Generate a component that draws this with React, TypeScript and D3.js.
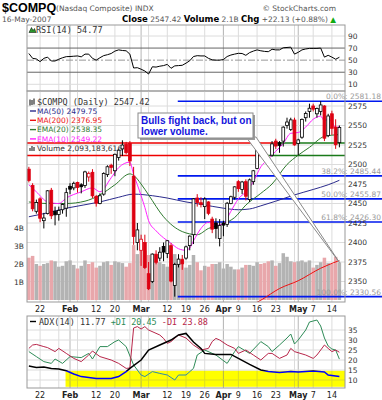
import React from "react";
import * as d3 from "d3";

// ---------- DATA ----------
const prevClose = 2497.78;
const opens = [
  2494, 2473, 2440, 2456, 2428, 2437, 2467, 2440, 2436, 2442,
  2444, 2472, 2470, 2477, 2474, 2473, 2484, 2490, 2459, 2450,
  2462, 2487, 2499, 2492, 2509, 2520, 2526, 2527, 2485, 2400,
  2390, 2400, 2360, 2350, 2385, 2380, 2395, 2386, 2396, 2345,
  2372, 2378, 2380, 2396, 2410, 2457, 2451, 2446, 2452, 2430,
  2425, 2405, 2425, 2423, 2450, 2458, 2478, 2468, 2478, 2455,
  2478, 2495, 2520, 2515, 2500, 2512, 2530, 2528, 2530, 2550,
  2545, 2557, 2527, 2535, 2560, 2568, 2575, 2565, 2568, 2575,
  2537, 2565, 2548, 2528,
];
const highs = [
  2497, 2476, 2455, 2458, 2438, 2467, 2470, 2446, 2446, 2450,
  2470, 2476, 2478, 2478, 2476, 2492, 2491, 2494, 2461, 2463,
  2490, 2499, 2501, 2514, 2520, 2531, 2529, 2530, 2497, 2425,
  2410, 2410, 2375, 2386, 2390, 2394, 2400, 2403, 2399, 2374,
  2385, 2384, 2396, 2409, 2457, 2462, 2458, 2458, 2453, 2433,
  2431, 2430, 2428, 2452, 2460, 2472, 2480, 2479, 2481, 2482,
  2493, 2519, 2522, 2518, 2512, 2530, 2533, 2530, 2549, 2560,
  2560, 2560, 2533, 2559, 2568, 2578, 2578, 2573, 2581.18, 2576,
  2565, 2569, 2558, 2550,
];
const lows = [
  2477, 2440, 2437, 2426, 2418, 2436, 2430, 2422, 2428, 2437,
  2433, 2462, 2467, 2464, 2463, 2470, 2478, 2457, 2446, 2449,
  2460, 2484, 2488, 2485, 2505, 2511, 2513, 2498, 2397, 2390,
  2370, 2366, 2339, 2348, 2372, 2376, 2376, 2380, 2349, 2330.56,
  2368, 2365, 2378, 2390, 2398, 2446, 2445, 2430, 2435, 2412,
  2405, 2395, 2408, 2420, 2449, 2455, 2465, 2462, 2454, 2452,
  2474, 2494, 2510, 2505, 2497, 2510, 2520, 2515, 2523, 2546,
  2543, 2524, 2512, 2533, 2555, 2560, 2568, 2560, 2563, 2530,
  2535, 2538, 2520, 2522,
];
const closes = [
  2479.42, 2443.21, 2451.31, 2431.07, 2431.41, 2466.28, 2434.24, 2435.49, 2441.09, 2448.64,
  2463.93, 2468.38, 2475.88, 2470.6, 2471.49, 2490.5, 2488.67, 2459.82, 2450.38, 2459.88,
  2488.38, 2497.1, 2496.31, 2513.04, 2518.42, 2524.94, 2515.1, 2504.52, 2407.86, 2416.15,
  2404.21, 2368.0, 2340.68, 2385.14, 2374.64, 2387.55, 2387.73, 2402.29, 2350.57, 2371.74,
  2378.7, 2372.66, 2394.41, 2408.21, 2455.92, 2451.23, 2448.93, 2455.63, 2437.43, 2417.1,
  2417.88, 2421.64, 2422.26, 2450.33, 2458.68, 2471.34, 2469.05, 2477.6, 2459.31, 2480.32,
  2491.94, 2518.33, 2516.95, 2510.5, 2505.35, 2526.39, 2523.67, 2524.54, 2547.89, 2554.46,
  2557.21, 2525.09, 2531.53, 2557.84, 2565.46, 2572.15, 2570.95, 2571.75, 2576.34, 2533.74,
  2562.22, 2546.44, 2525.29, 2547.42,
];
// volume in billions
const volumes = [
  2.35, 2.45, 2.0, 1.9, 2.0, 2.05, 2.2, 2.15, 1.85, 1.9,
  2.15, 2.2, 1.95, 1.75, 1.9, 2.2, 2.0, 2.1, 1.8, 1.9,
  2.1, 2.15, 1.95, 2.15, 2.1, 2.05, 1.85, 2.05, 3.05, 2.55,
  3.3, 2.75, 2.5, 2.3, 2.15, 2.1, 2.0, 1.85, 2.45, 2.55,
  2.05, 2.3, 1.8, 1.95, 2.5, 2.1, 1.65, 1.9, 1.85, 2.0,
  2.0, 2.1, 1.75, 2.0, 1.85, 1.7, 1.7, 1.8, 1.95, 1.95,
  1.9, 2.1, 2.0, 2.05, 2.15, 2.2, 1.9, 2.05, 2.6, 2.4,
  2.15, 2.1, 2.15, 2.2, 2.1, 2.2, 1.8, 1.95, 2.1, 2.35,
  2.05, 2.0, 2.4, 2.09,
];
const rsi = [
  61, 53, 52, 47.5, 53, 55, 48.6, 48.6, 51.5, 54,
  55.8, 56, 56.5, 57, 55.5, 60, 60, 53, 50, 54,
  57.5, 59, 61, 65, 67, 66, 65.5, 60, 37, 37.5,
  35, 32, 27, 39, 38.5, 40, 41, 43, 36.5, 40.5,
  41, 41.5, 45, 49, 56, 57.4, 57, 57, 53, 50.5,
  50, 50, 51, 56, 58.5, 60, 61.3, 61, 58, 62.5,
  65, 67, 65.5, 64.5, 64, 68, 67, 67, 70.5, 71,
  71.5, 60, 63, 67, 68.5, 69.5, 69.5, 69.5, 70, 55,
  58, 55, 51.5, 54.77,
];
const ma50: [number, number][] = [
  [0, 2433], [4, 2437], [10, 2444], [19, 2452], [24, 2458], [28, 2462], [33, 2460], [37, 2457],
  [42, 2452], [46, 2449], [52, 2444], [56, 2442], [59, 2443], [62, 2447], [66, 2453], [71, 2461],
  [76, 2468], [80, 2474], [83, 2479.75],
];
const ma200: [number, number][] = [
  [58, 2316], [62, 2326], [67, 2341], [72, 2351], [78, 2367], [83, 2376.95],
];
const ema20: [number, number][] = [
  [0, 2452], [5, 2450], [10, 2450], [15, 2453], [19, 2461], [23, 2474], [27, 2488], [28, 2486],
  [30, 2475], [32, 2461], [36, 2433], [41, 2414], [45, 2410], [48, 2418], [52, 2424], [55, 2432],
  [58, 2448], [62, 2463], [65, 2475], [69, 2500], [72, 2512], [75, 2522], [79, 2536], [83, 2538.35],
];
const ema10: [number, number][] = [
  [0, 2474], [2, 2465], [5, 2452], [8, 2450], [10, 2457], [14, 2465], [17, 2470], [19, 2465],
  [22, 2483], [24, 2496], [27, 2503], [28, 2487], [29, 2474], [30, 2460], [31, 2445], [32, 2428],
  [34, 2415], [36, 2406], [38, 2399], [40, 2392], [42, 2390], [43, 2393], [44, 2402], [46, 2418],
  [48, 2426], [50, 2422], [52, 2424], [54, 2440], [56, 2456], [58, 2465], [60, 2478], [62, 2497],
  [64, 2507], [66, 2517], [68, 2527], [70, 2540], [72, 2541], [74, 2548], [76, 2558], [78, 2562],
  [79, 2556], [80, 2558], [81, 2555], [82, 2547], [83, 2549.22],
];
const adx: [number, number][] = [
  [0, 17], [2, 16.3], [4, 16.5], [6, 15.8], [8, 15.5], [10, 14.6], [12, 13], [14, 11.7], [18, 10.8],
  [22, 10.8], [24, 11.7], [26, 14.2], [27, 15.8], [30, 20], [32, 25], [35, 27.5], [38, 30],
  [40, 32.5], [42, 33.3], [44, 29], [46, 25.8], [47, 23.3], [50, 22.8], [54, 22.8], [56, 20.8],
  [59, 17.8], [62, 15], [64, 14.2], [67, 13.8], [70, 14.3], [72, 14], [76, 14.5], [79, 14],
  [80, 12.5], [83, 11.77],
];
const plusDI: [number, number][] = [
  [0, 24.2], [2, 21.7], [4, 19.2], [6, 18.3], [7, 20.5], [9, 18.3], [11, 21.7], [14, 21.2],
  [16, 23.3], [17, 20.5], [19, 26.7], [21, 26.7], [23, 29.2], [24, 30], [26, 26.7], [28, 17.5],
  [30, 12.5], [31, 11.7], [33, 14.2], [35, 13.3], [37, 12.5], [39, 10], [40, 12.5], [42, 12.5],
  [44, 15.8], [45, 22.5], [47, 25], [50, 22.5], [53, 18.3], [55, 24.2], [56, 26.7], [59, 23.3],
  [62, 29.2], [64, 26.7], [65, 24.2], [67, 27.5], [69, 31], [70, 33], [71, 28], [72, 30],
  [74, 35], [75, 39], [77, 40], [78, 37], [79, 31], [80, 27], [81, 25.5], [82, 25], [83, 20.45],
];
const minusDI: [number, number][] = [
  [0, 25.8], [1, 27.5], [2, 27.8], [4, 26.7], [5, 26.2], [7, 24.2], [8, 25.8], [10, 23.3],
  [12, 20.8], [14, 19.2], [16, 22.5], [17, 24.5], [19, 21.7], [22, 20], [24, 18.3], [26, 15.8],
  [27, 16], [28, 36], [29, 36.7], [30, 35.5], [31, 36.7], [32, 35], [35, 32.5], [36, 30.8],
  [37, 28.3], [38, 29.2], [40, 32.5], [42, 31], [44, 27.5], [46, 25], [48, 25.8], [49, 29.2],
  [50, 30.8], [51, 30], [53, 27.5], [55, 25.8], [56, 23.3], [58, 25], [60, 22.5], [62, 20],
  [64, 23.3], [65, 23.3], [67, 20.8], [69, 22.5], [70, 25.8], [71, 24.2], [74, 22.5], [76, 20.8],
  [77, 22.5], [79, 27.5], [80, 25.8], [81, 24.2], [82, 25], [83, 23.88],
];
const fibLevels = [
  { label: "0.0%", value: 2581.18 },
  { label: "38.2%", value: 2485.44 },
  { label: "50.0%", value: 2455.87 },
  { label: "61.8%", value: 2426.3 },
  { label: "100.0%", value: 2330.56 },
];
const fibStartDay = 39.8;
const srLines = [
  { level: 2527.6, from: -0.5, to: 65.6, color: "#ee0000" },
  { level: 2527.6, from: 65.6, to: 84.5, color: "#1a7a1a" },
  { level: 2511.6, from: -0.5, to: 63.6, color: "#ee0000" },
  { level: 2511.6, from: 63.6, to: 84.5, color: "#1a7a1a" },
];
const weekTicks = [3, 8, 13, 18, 23, 27, 32, 37, 42, 47, 52, 56, 61, 66, 71, 76, 81];
const monthTicks = [11, 30, 52, 72];
const dateLabels = [
  { day: 3, text: "22", bold: false }, { day: 11, text: "Feb", bold: true },
  { day: 18, text: "12", bold: false }, { day: 23, text: "20", bold: false },
  { day: 30, text: "Mar", bold: true }, { day: 37, text: "12", bold: false },
  { day: 42, text: "19", bold: false }, { day: 47, text: "26", bold: false },
  { day: 52, text: "Apr", bold: true }, { day: 56, text: "9", bold: false },
  { day: 61, text: "16", bold: false }, { day: 66, text: "23", bold: false },
  { day: 72, text: "May", bold: true }, { day: 76, text: "7", bold: false },
  { day: 81, text: "14", bold: false },
];
const priceTicks = [2350, 2375, 2400, 2425, 2450, 2475, 2500, 2525, 2550, 2575];
const rsiTicks = [10, 30, 50, 70, 90];
const adxTicks = [10, 15, 20, 25, 30, 35];
const volTicks = [1, 2, 3, 4];
const highlight = { from: 9.8, to: 84.5, top: 14.6, bottom: 6.6 };
const note = ["Bulls fight back, but on", "lower volume."];

// ---------- LAYOUT ----------
const L = 27, R = 345;
const RSI_T = 25, RSI_B = 91;
const M_T = 91, M_B = 302;
const A_T = 316, A_B = 388;
const FONT = "DejaVu Sans, Verdana, sans-serif";
const MONO = "DejaVu Sans Mono, monospace";

export default function App() {
  const x = d3.scaleLinear().domain([-0.5, 84.5]).range([L, R]);
  const yP = d3.scaleLinear().domain([2350, 2575]).range([281.5, 106]);
  const yV = d3.scaleLinear().domain([0, 4]).range([300, 228]);
  const yR = d3.scaleLinear().domain([10, 90]).range([84.3, 36]);
  const yA = d3.scaleLinear().domain([10, 30]).range([380, 340]);

  const lineP = d3.line<[number, number]>().x((d) => x(d[0])).y((d) => yP(d[1])).curve(d3.curveMonotoneX);
  const lineA = d3.line<[number, number]>().x((d) => x(d[0])).y((d) => yA(d[1])).curve(d3.curveLinear);
  const lineR = d3.line<number>().x((_, i) => x(i)).y((d) => yR(d));

  const red = "#dd0011";
  const lastVolTip: [number, number] = [x(closes.length - 1), yV(volumes[volumes.length - 1])];

  const vGrid = (top: number, bottom: number) => (
    <g>
      {weekTicks.map((d) => (
        <line key={"w" + d} x1={x(d)} x2={x(d)} y1={top} y2={bottom} stroke="#dcdcdc" strokeWidth={1} />
      ))}
      {monthTicks.map((d) => (
        <line key={"m" + d} x1={x(d)} x2={x(d)} y1={top} y2={bottom} stroke="#b8b8b8" strokeWidth={1} />
      ))}
    </g>
  );

  const dateAxis = (yb: number) => (
    <g fontFamily={FONT} fontSize={8} fill="#222">
      {dateLabels.map((l) => (
        <text key={l.day + l.text} x={x(l.day)} y={yb} textAnchor="middle" fontWeight={l.bold ? "bold" : "normal"}>
          {l.text}
        </text>
      ))}
    </g>
  );

  return (
    <svg width={382} height={400} style={{ position: "absolute", left: 0, top: 0 }}>
      <defs>
        <clipPath id="cMain"><rect x={L} y={M_T} width={R - L} height={M_B - M_T} /></clipPath>
        <clipPath id="cRsi"><rect x={L} y={RSI_T} width={R - L} height={RSI_B - RSI_T} /></clipPath>
        <clipPath id="cAdx"><rect x={L} y={A_T} width={R - L} height={A_B - A_T} /></clipPath>
      </defs>
      <rect x={0} y={0} width={382} height={400} fill="#fff" />

      {/* Header */}
      <text x={2} y={11.5} fontFamily="Liberation Sans, Arial, sans-serif" fontSize={12.5} fontWeight="bold" fill="#000">$COMPQ</text>
      <text x={56} y={11} fontFamily={FONT} fontSize={7.5} fill="#555">(Nasdaq Composite) INDX</text>
      <text x={336} y={11} textAnchor="end" fontFamily={FONT} fontSize={7.5} fill="#555">© StockCharts.com</text>
      <text x={2} y={21.5} fontFamily={FONT} fontSize={7.5} fill="#555">16-May-2007</text>
      <text x={122} y={21.5} fontFamily={FONT} fontSize={7.5} fill="#555">
        <tspan fontWeight="bold" fill="#000" fontSize={8.5}>Close</tspan>
        <tspan> 2547.42 </tspan>
        <tspan fontWeight="bold" fill="#000" fontSize={8.5}>Volume</tspan>
        <tspan> 2.1B </tspan>
        <tspan fontWeight="bold" fill="#000" fontSize={8.5}>Chg</tspan>
        <tspan> +22.13 (+0.88%) </tspan>
        <tspan fill="#11aa11">▲</tspan>
      </text>

      {/* RSI panel */}
      <g clipPath="url(#cRsi)">
        {vGrid(RSI_T, RSI_B)}
        {rsiTicks.map((t) => (
          <line key={t} x1={L} x2={R} y1={yR(t)} y2={yR(t)}
            stroke={t === 30 || t === 70 ? "#666" : t === 50 ? "#999" : "#dcdcdc"}
            strokeDasharray={t === 50 ? "7,2,2,2" : undefined} strokeWidth={1} />
        ))}
        <path d={lineR(rsi) || ""} fill="none" stroke="#000" strokeWidth={1} />
      </g>
      <rect x={L} y={RSI_T} width={R - L} height={RSI_B - RSI_T} fill="none" stroke="#999" />
      <g>
        <path d={`M${L + 2},${RSI_T + 7.5} l2.5,-5 l1.5,3 l1.5,-2 l1.5,4 z`} fill="#2a9a2a" stroke="#000" strokeWidth={0.5} />
        <text x={L + 9} y={RSI_T + 7.5} fontFamily={MONO} fontSize={8.5} fill="#333">RSI(14) 54.77</text>
      </g>
      <g fontFamily={FONT} fontSize={7.5} fill="#333">
        {rsiTicks.map((t) => (
          <text key={t} x={R + 3} y={yR(t) + 2.7}>{t}</text>
        ))}
      </g>

      {/* Main panel */}
      <g clipPath="url(#cMain)">
        {vGrid(M_T, M_B)}
        {priceTicks.map((p) => (
          <line key={p} x1={L} x2={R} y1={yP(p)} y2={yP(p)} stroke="#dcdcdc" />
        ))}
        {/* volume */}
        {volumes.map((v, i) => {
          const down = closes[i] < (i > 0 ? closes[i - 1] : prevClose);
          return (
            <rect key={i} x={x(i) - 1.75} y={yV(v)} width={3.5} height={yV(0) - yV(v)}
              fill={down ? "#e8a7ab" : "#b3b3b3"} />
          );
        })}
        {/* fibonacci */}
        {fibLevels.map((f) => (
          <line key={f.label} x1={x(fibStartDay)} x2={382} y1={yP(f.value)} y2={yP(f.value)} stroke="#0018ee" strokeWidth={1.6} />
        ))}
        {/* support / resistance */}
        {srLines.map((s, k) => (
          <line key={k} x1={x(s.from)} x2={x(s.to)} y1={yP(s.level)} y2={yP(s.level)} stroke={s.color} strokeWidth={1.4} />
        ))}
        {/* moving averages */}
        <path d={lineP(ma50) || ""} fill="none" stroke="#2b2b8c" strokeWidth={1} />
        <path d={lineP(ma200) || ""} fill="none" stroke="#ee1111" strokeWidth={1} />
        <path d={lineP(ema20) || ""} fill="none" stroke="#2f7a2f" strokeWidth={1} />
        <path d={lineP(ema10) || ""} fill="none" stroke="#ff22ff" strokeWidth={1} />
        {/* candles */}
        {closes.map((c, i) => {
          const o = opens[i];
          const prev = i > 0 ? closes[i - 1] : prevClose;
          const col = c < prev ? red : "#000";
          const filled = c < o;
          const top = yP(Math.max(o, c));
          const bot = yP(Math.min(o, c));
          const cx = x(i);
          return (
            <g key={i}>
              <line x1={cx} x2={cx} y1={yP(highs[i])} y2={yP(lows[i])} stroke={col} strokeWidth={1} />
              <rect x={cx - 1.4} y={top} width={2.8} height={Math.max(bot - top, 0.8)}
                fill={filled ? col : "#fff"} stroke={col} strokeWidth={0.8} />
            </g>
          );
        })}
      </g>
      {/* fib lines beyond panel */}
      {fibLevels.map((f) => (
        <line key={"o" + f.label} x1={R} x2={382} y1={yP(f.value)} y2={yP(f.value)} stroke="#0018ee" strokeWidth={1.6} />
      ))}
      <rect x={L} y={M_T} width={R - L} height={M_B - M_T} fill="none" stroke="#999" />
      {/* price axis */}
      <g fontFamily={FONT} fontSize={7.5} fill="#333">
        {priceTicks.map((p) => (
          <text key={p} x={R + 3} y={yP(p) + 2.7}>{p}</text>
        ))}
      </g>
      <g fontFamily={FONT} fontSize={7.5} fill="#333">
        {volTicks.map((v) => (
          <text key={v} x={L - 3} y={yV(v) + 2.7} textAnchor="end">{v}B</text>
        ))}
      </g>
      {/* fib labels */}
      <g fontFamily={FONT} fontSize={7.5} fill="#9a9a9a">
        {fibLevels.map((f) => (
          <text key={"t" + f.label} x={381} y={yP(f.value) - 2} textAnchor="end">{`${f.label}: ${f.value.toFixed(2)}`}</text>
        ))}
      </g>
      {/* legend */}
      <g fontFamily={FONT} fontSize={7.5}>
        <path d={`M30,${99.5} v6 M32,${100} v5 M34,${98.5} v6`} stroke="#000" strokeWidth={1} />
        <text x={37} y={105} fill="#333" fontFamily={MONO} fontSize={8.5}>$COMPQ (Daily) 2547.42</text>
        <line x1={30} x2={36} y1={111} y2={111} stroke="#2b2b8c" strokeWidth={1.4} />
        <text x={37} y={113.7} fill="#2b2b8c">MA(50) 2479.75</text>
        <line x1={30} x2={36} y1={120.3} y2={120.3} stroke="#ee1111" strokeWidth={1.4} />
        <text x={37} y={123} fill="#ee1111">MA(200) 2376.95</text>
        <line x1={30} x2={36} y1={129.6} y2={129.6} stroke="#2f7a2f" strokeWidth={1.4} />
        <text x={37} y={132.3} fill="#2f7a2f">EMA(20) 2538.35</text>
        <line x1={30} x2={36} y1={138.9} y2={138.9} stroke="#ff22ff" strokeWidth={1.4} />
        <text x={37} y={141.6} fill="#ff22ff">EMA(10) 2549.22</text>
        <path d="M30,151 v-3 M32,151 v-5 M34,151 v-4" stroke="#333" strokeWidth={1.2} />
        <text x={37} y={151} fill="#333">Volume 2,093,183,616</text>
      </g>
      {/* annotation */}
      <polygon points={`246,137 256,137 ${lastVolTip[0]},${lastVolTip[1]}`} fill="#fff" stroke="#8a8a8a" strokeWidth={1} />
      <rect x={140} y={115} width={115} height={25} fill="#9a9a9a" />
      <rect x={138} y={113} width={115} height={25} fill="#fff" stroke="#8a8a8a" />
      <g fontFamily="Liberation Sans, Arial, sans-serif" fontSize={10} fontWeight="bold" fill="#1515dd">
        <text x={141} y={123.5}>{note[0]}</text>
        <text x={141} y={135}>{note[1]}</text>
      </g>

      {dateAxis(312)}

      {/* ADX panel */}
      <g clipPath="url(#cAdx)">
        <rect x={L} y={A_T} width={R - L} height={A_B - A_T} fill="#fff" />
        {vGrid(A_T, A_B)}
        {adxTicks.map((t) => (
          <line key={t} x1={L} x2={R} y1={yA(t)} y2={yA(t)} stroke="#dcdcdc" />
        ))}
        <path d={lineA(plusDI) || ""} fill="none" stroke="#2e8b57" strokeWidth={1} />
        <path d={lineA(minusDI) || ""} fill="none" stroke="#b8264a" strokeWidth={1} />
        <path d={lineA(adx) || ""} fill="none" stroke="#000" strokeWidth={1.5} />
        <rect x={x(highlight.from)} y={yA(highlight.top)} width={x(highlight.to) - x(highlight.from)}
          height={yA(highlight.bottom) - yA(highlight.top)} fill="#0000ff" style={{ mixBlendMode: "difference" }} />
      </g>
      <rect x={L} y={A_T} width={R - L} height={A_B - A_T} fill="none" stroke="#999" />
      <g fontFamily={MONO} fontSize={8.5}>
        <line x1={30} x2={36} y1={321.5} y2={321.5} stroke="#000" strokeWidth={1.4} />
        <text x={39} y={324.5} fill="#333">ADX(14) 11.77 <tspan fill="#2e8b57">+DI 20.45</tspan> <tspan fill="#b8264a">-DI 23.88</tspan></text>
      </g>
      <g fontFamily={FONT} fontSize={7.5} fill="#333">
        {adxTicks.map((t) => (
          <text key={t} x={R + 3} y={yA(t) + 2.7}>{t}</text>
        ))}
      </g>
      {dateAxis(398)}
    </svg>
  );
}
